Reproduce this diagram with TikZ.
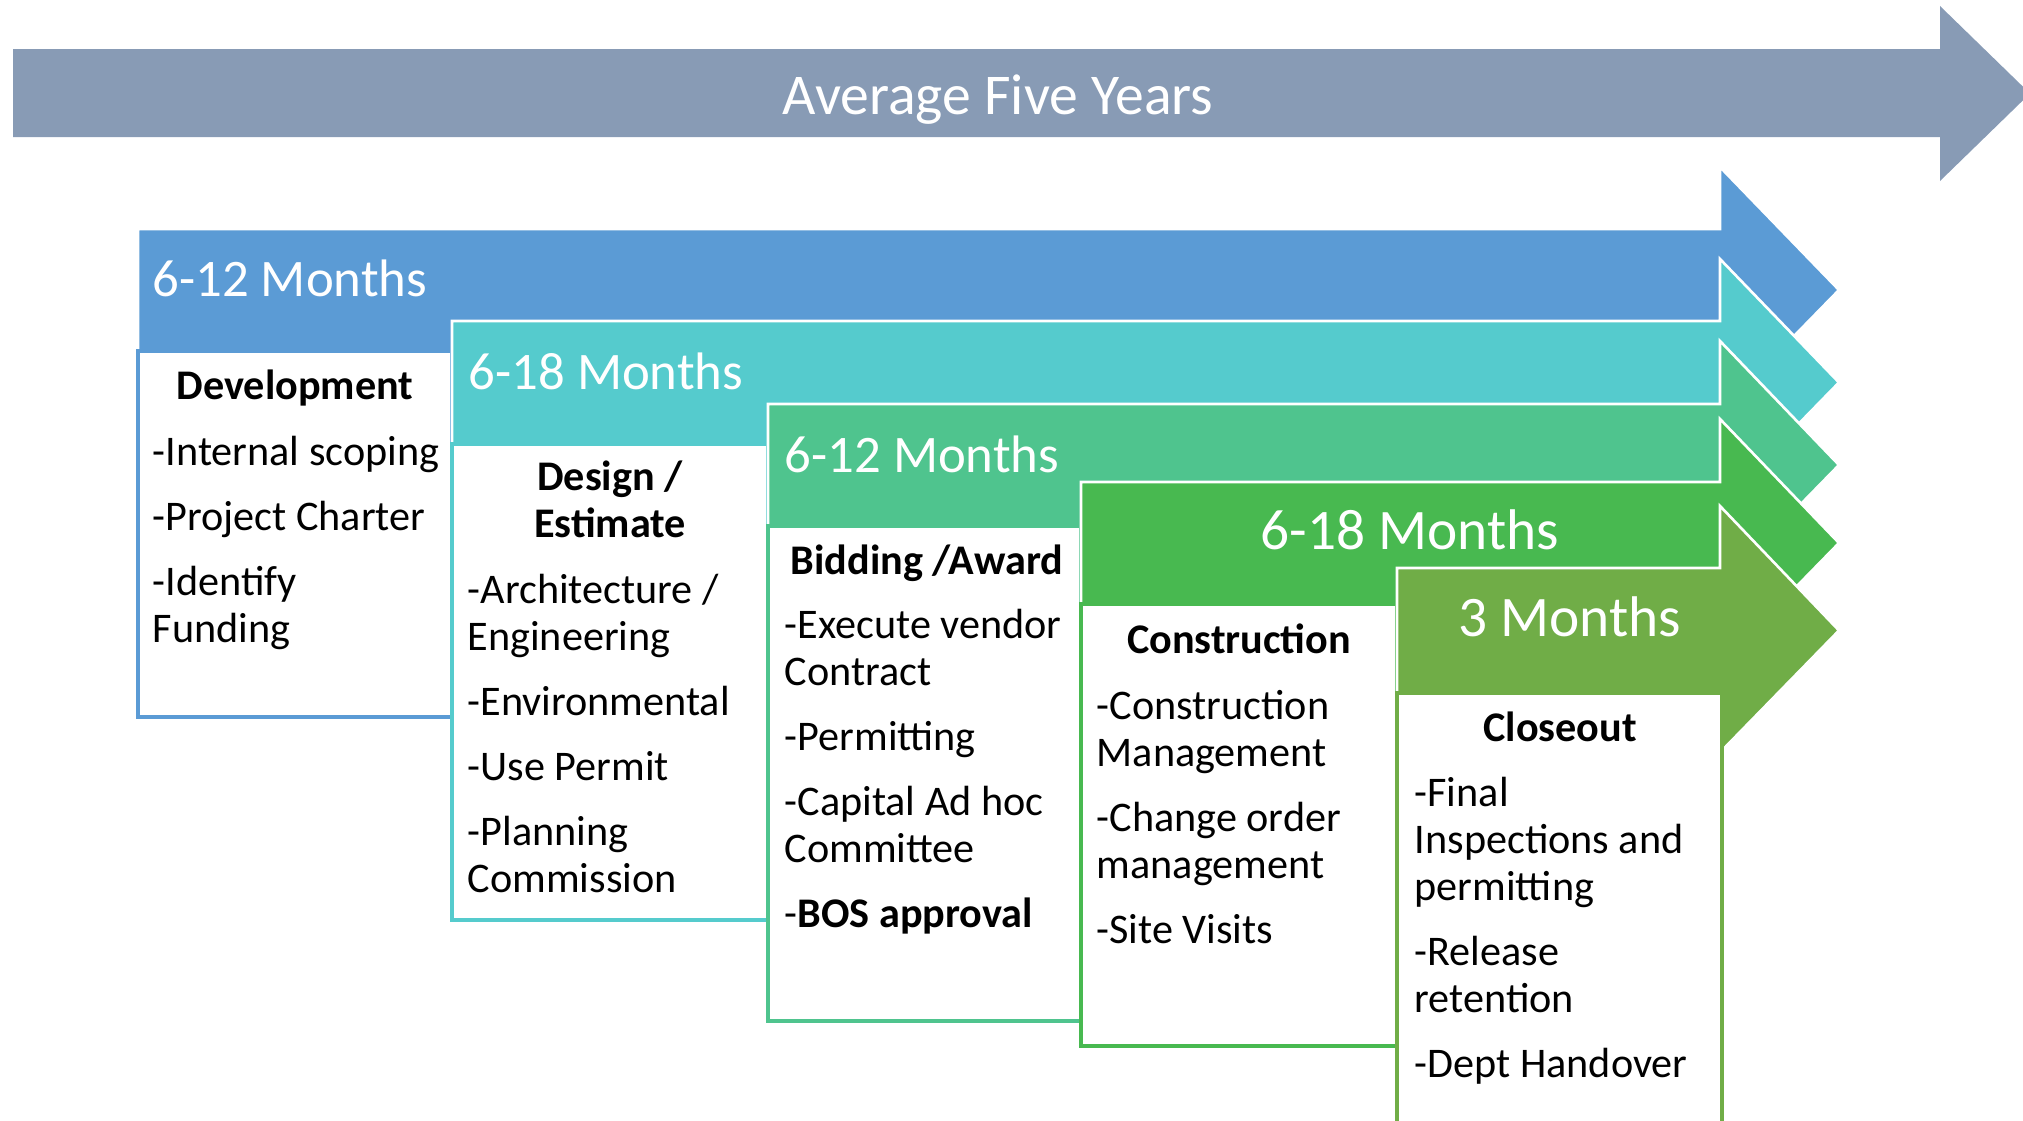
\documentclass[tikz,border=0pt]{standalone}
\usepackage{fontspec}
\setmainfont{Carlito}

\definecolor{yeargray}{RGB}{136,155,181}
\definecolor{devblue}{RGB}{91,155,213}
\definecolor{desteal}{RGB}{85,203,205}
\definecolor{bidgreen}{RGB}{79,196,142}
\definecolor{congreen}{RGB}{72,185,80}
\definecolor{cloolive}{RGB}{112,173,71}

\newcommand{\tasklist}[1]{\parbox[t]{3.2cm}{\raggedright\setlength{\parskip}{5.2pt}#1}}

\tikzset{
  band/.style={draw=white, line width=0.75pt},
  stagebox/.style={fill=white, line width=0.9pt},
  months/.style={text=white, inner sep=0pt, anchor=base west, font=\fontsize{15}{18}\selectfont},
  bigmonths/.style={text=white, inner sep=0pt, anchor=base, font=\fontsize{16.3}{19.5}\selectfont},
  phase/.style={inner sep=0pt, anchor=base, font=\fontsize{12}{13.37}\selectfont\bfseries},
  tasks/.style={inner sep=0pt, anchor=base west, font=\fontsize{12}{13.37}\selectfont}
}

\begin{document}
\begin{tikzpicture}[x=0.01cm,y=-0.01cm]

\useasboundingbox (0,0) rectangle (2023,1121) ;
\clip (0,0) rectangle (2023,1121) ;

\fill[yeargray] (13,49) -- (1940,49) -- (1940,6) -- (2030,93.5) -- (1940,181) -- (1940,137) -- (13,137) -- cycle ;
\node[bigmonths, font=\fontsize{16.4}{19.5}\selectfont] (avg) at (998,114) {Average Five Years} ;

\draw[band, fill=devblue] (138,229) -- (1720,229) -- (1720,167) -- (1839,290) -- (1720,412) -- (1720,351) -- (138,351) -- cycle ;
\draw[stagebox, draw=devblue] (138,351) rectangle (452,717) ;

\draw[band, fill=desteal] (452,321) -- (1720,321) -- (1720,259) -- (1839,382.5) -- (1720,504.5) -- (1720,444) -- (452,444) -- cycle ;
\draw[stagebox, draw=desteal] (452,444) rectangle (768,920) ;

\draw[band, fill=bidgreen] (768,404) -- (1720,404) -- (1720,341) -- (1839,465) -- (1720,587) -- (1720,526) -- (768,526) -- cycle ;
\draw[stagebox, draw=bidgreen] (768,526) rectangle (1081,1021) ;

\draw[band, fill=congreen] (1081,482) -- (1720,482) -- (1720,419) -- (1839,543) -- (1720,665) -- (1720,604) -- (1081,604) -- cycle ;
\draw[stagebox, draw=congreen] (1081,604) rectangle (1397,1046) ;

\draw[band, fill=cloolive] (1397,568) -- (1720,568) -- (1720,506) -- (1839,630.5) -- (1720,752.5) -- (1720,693) -- (1397,693) -- cycle ;
\draw[stagebox, draw=cloolive] (1397,693) rectangle (1722,1140) ;

\node[months] (devtime) at (152,296) {6-12 Months} ;
\node[months] (destime) at (468,389) {6-18 Months} ;
\node[months] (bidtime) at (784,472) {6-12 Months} ;
\node[bigmonths] (contime) at (1410,549) {6-18 Months} ;
\node[bigmonths] (clotime) at (1570,636) {3 Months} ;

\node[phase] (dev) at (295,399) {Development} ;
\node[phase] (des) at (610,490) {\parbox[t]{3cm}{\centering Design /\\Estimate}} ;
\node[phase] (bid) at (927,574) {Bidding /Award} ;
\node[phase] (con) at (1239,653) {Construction} ;
\node[phase] (clo) at (1560,741) {Closeout} ;

\node[tasks] (devlist) at (152,465) {\tasklist{-Internal scoping\par -Project Charter\par -Identify\\Funding}} ;
\node[tasks] (deslist) at (467,603) {\tasklist{-Architecture /\\Engineering\par -Environmental\par -Use Permit\par -Planning\\Commission}} ;
\node[tasks] (bidlist) at (784,638) {\tasklist{-Execute vendor\\Contract\par -Permitting\par -Capital Ad hoc\\Committee\par -\textbf{BOS approval}}} ;
\node[tasks] (conlist) at (1096,719) {\tasklist{-Construction\\Management\par -Change order\\management\par -Site Visits}} ;
\node[tasks] (clolist) at (1414,806) {\tasklist{-Final\\Inspections and\\permitting\par -Release\\retention\par -Dept Handover}} ;

\end{tikzpicture}
\end{document}
